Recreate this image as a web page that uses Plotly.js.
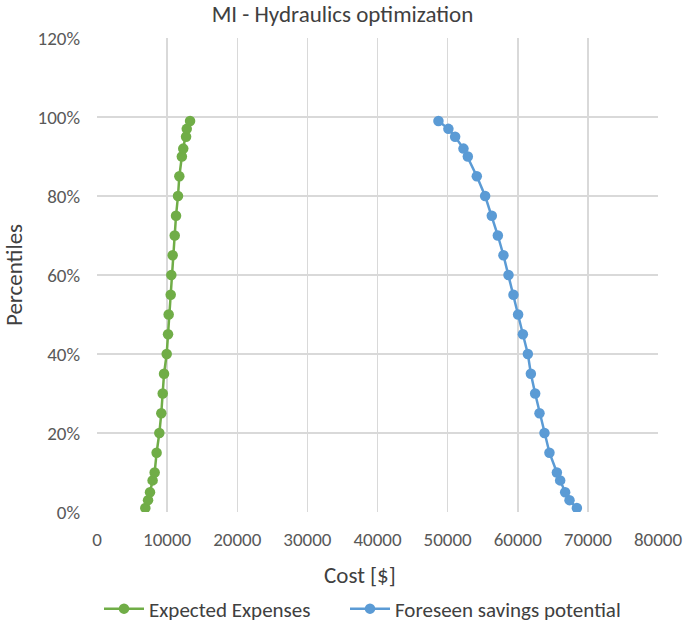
<!DOCTYPE html>
<html>
<head>
<meta charset="utf-8">
<script src="https://cdn.plot.ly/plotly-3.0.1.min.js"></script>
<style>html,body{margin:0;padding:0;background:#fff;}#chart{width:685px;height:623px;}</style>
</head>
<body>
<div id="chart"></div>
<script>
const percentiles = [1, 3, 5, 8, 10, 15, 20, 25, 30, 35, 40, 45, 50, 55, 60, 65, 70, 75, 80, 85, 90, 92, 95, 97, 99];
const expectedExpenses = [6890, 7280, 7560, 7930, 8220, 8500, 8890, 9170, 9370, 9560, 9940, 10130, 10220, 10510, 10600, 10790, 11080, 11270, 11550, 11740, 12100, 12300, 12700, 12800, 13270];
const foreseenSavings = [68430, 67380, 66760, 66050, 65580, 64520, 63810, 63100, 62480, 61870, 61440, 60730, 60050, 59390, 58680, 57960, 57160, 56300, 55350, 54160, 52880, 52260, 51070, 50110, 48690];
const seriesNames = ["Expected Expenses", "Foreseen savings potential"];
const xTicks = [0, 10000, 20000, 30000, 40000, 50000, 60000, 70000, 80000];
const yTicks = [0, 20, 40, 60, 80, 100, 120];

const FONT = "Carlito, Calibri, Lato, 'Open Sans', sans-serif";
const traces = [
  {x: expectedExpenses, y: percentiles, name: seriesNames[0], type: 'scatter', mode: 'lines+markers', legend: 'legend',
   line: {color: '#70AD47', width: 2.5}, marker: {color: '#70AD47', size: 10.5}},
  {x: foreseenSavings, y: percentiles, name: seriesNames[1], type: 'scatter', mode: 'lines+markers', legend: 'legend2',
   line: {color: '#5B9BD5', width: 2.5}, marker: {color: '#5B9BD5', size: 10.5}}
];
const legendBase = {orientation: 'h', xref: 'container', yref: 'container', xanchor: 'left', y: (623 - 609) / 623, yanchor: 'middle',
  font: {family: FONT, size: 21, color: '#404040'}, itemwidth: 40, bgcolor: 'rgba(0,0,0,0)'};
const layout = {
  width: 685, height: 623,
  margin: {l: 97, r: 27, t: 38, b: 111},
  paper_bgcolor: '#fff', plot_bgcolor: '#fff',
  font: {family: FONT, color: '#595959', size: 19},
  title: {text: 'MI - Hydraulics optimization', font: {family: FONT, size: 23, color: '#404040'}, x: 0.5, xanchor: 'center', xref: 'container', y: 1 - 14/623, yanchor: 'middle', yref: 'container'},
  xaxis: {range: [0, 80000], tickvals: xTicks, ticktext: xTicks.map(String), showgrid: true, gridcolor: '#D9D9D9', gridwidth: 1.5,
    zeroline: false, showline: false, ticks: '', tickfont: {size: 19, color: '#595959'}, ticklabelstandoff: 14,
    automargin: false, fixedrange: true},
  yaxis: {range: [0, 120], tickvals: yTicks, ticktext: yTicks.map(v => v + '%'), showgrid: true, gridcolor: '#D9D9D9', gridwidth: 1.5,
    zeroline: false, showline: false, ticks: '', tickfont: {size: 19, color: '#595959'}, ticklabelstandoff: 16,
    automargin: false, fixedrange: true},
  annotations: [
    {text: 'Cost [$]', xref: 'paper', yref: 'paper', x: (360 - 97) / 561, y: -(575 - 512) / 474, xanchor: 'center', yanchor: 'middle',
     showarrow: false, font: {family: FONT, size: 23, color: '#404040'}},
    {text: 'Percentiles', xref: 'paper', yref: 'paper', x: (14 - 97) / 561, y: 0.5, xanchor: 'center', yanchor: 'middle', textangle: -90,
     showarrow: false, font: {family: FONT, size: 23, color: '#404040'}}
  ],
  showlegend: true,
  legend: Object.assign({}, legendBase, {x: 99 / 685}),
  legend2: Object.assign({}, legendBase, {x: 345 / 685})
};
Plotly.newPlot('chart', traces, layout, {displayModeBar: false, staticPlot: true});
</script>
</body>
</html>
